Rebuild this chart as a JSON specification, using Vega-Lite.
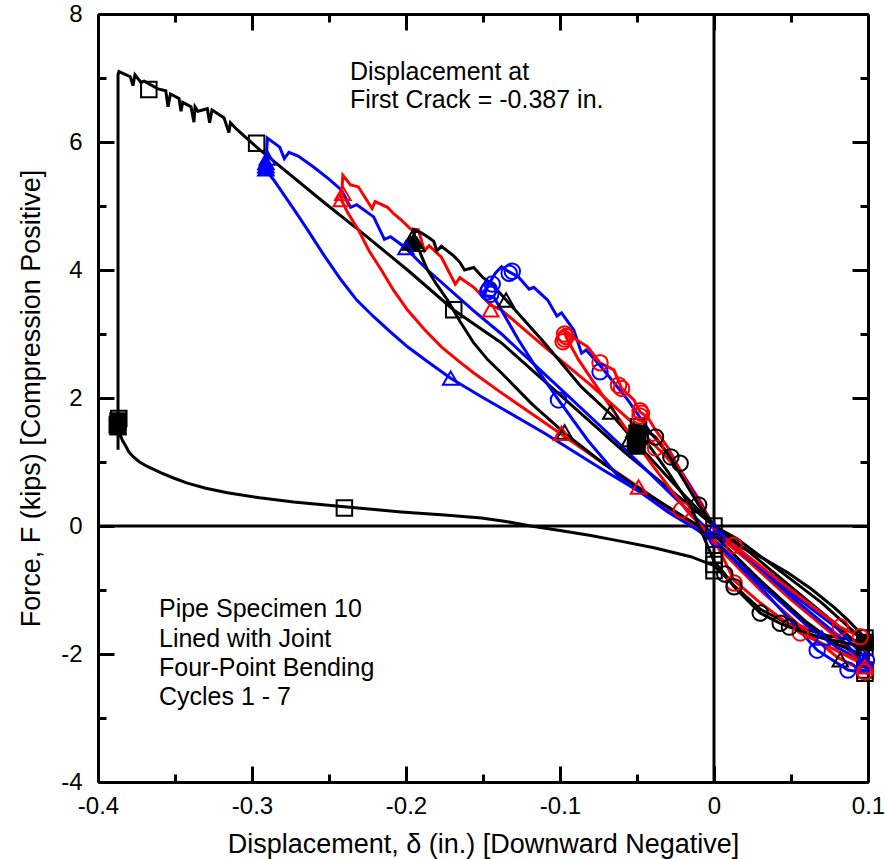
{
"$schema":"https://vega.github.io/schema/vega-lite/v6.json",
"width":770,"height":768,"autosize":"none",
"padding":{"left":98,"top":14,"right":18,"bottom":77},
"config":{"view":{"stroke":null},"axis":{"domainColor":"black","domainWidth":3,"tickColor":"black","tickWidth":3,"labelFont":"Liberation Sans","labelFontSize":24,"labelColor":"black","titleFont":"Liberation Sans","titleFontSize":27,"titleFontWeight":"normal","titleColor":"black","grid":false,"labelFlush":false,"labelOverlap":false,"labelBound":false,"zindex":1}},
"datasets":{
"zero":[{"v":0}],
"txt":[{"x":-0.2364,"y":6.97,"t":"Displacement at"},{"x":-0.2364,"y":6.53,"t":"First Crack = -0.387 in."},{"x":-0.3604,"y":-1.42,"t":"Pipe Specimen 10"},{"x":-0.3604,"y":-1.89,"t":"Lined with Joint"},{"x":-0.3604,"y":-2.34,"t":"Four-Point Bending"},{"x":-0.3604,"y":-2.8,"t":"Cycles 1 - 7"}],
"lines":[
{"s":"c7","o":1,"x":0,"y":0,"c":"k"},{"s":"c7","o":2,"x":-0.02,"y":0.4,"c":"k"},{"s":"c7","o":3,"x":-0.058,"y":1.15,"c":"k"},{"s":"c7","o":4,"x":-0.1,"y":2.05,"c":"k"},{"s":"c7","o":5,"x":-0.138,"y":2.86,"c":"k"},{"s":"c7","o":6,"x":-0.169,"y":3.375,"c":"k"},{"s":"c7","o":7,"x":-0.199,"y":4.0,"c":"k"},{"s":"c7","o":8,"x":-0.231,"y":4.63,"c":"k"},{"s":"c7","o":9,"x":-0.253,"y":5.05,"c":"k"},{"s":"c7","o":10,"x":-0.2909,"y":5.8,"c":"k"},{"s":"c7","o":11,"x":-0.2961,"y":5.9,"c":"k"},{"s":"c7","o":12,"x":-0.3026,"y":6.04,"c":"k"},{"s":"c7","o":13,"x":-0.31,"y":6.2,"c":"k"},{"s":"c7","o":14,"x":-0.314,"y":6.3,"c":"k"},{"s":"c7","o":15,"x":-0.315,"y":6.15,"c":"k"},{"s":"c7","o":16,"x":-0.3182,"y":6.38,"c":"k"},{"s":"c7","o":17,"x":-0.326,"y":6.5,"c":"k"},{"s":"c7","o":18,"x":-0.3275,"y":6.3,"c":"k"},{"s":"c7","o":19,"x":-0.329,"y":6.52,"c":"k"},{"s":"c7","o":20,"x":-0.3351,"y":6.48,"c":"k"},{"s":"c7","o":21,"x":-0.337,"y":6.55,"c":"k"},{"s":"c7","o":22,"x":-0.3377,"y":6.31,"c":"k"},{"s":"c7","o":23,"x":-0.3396,"y":6.55,"c":"k"},{"s":"c7","o":24,"x":-0.345,"y":6.62,"c":"k"},{"s":"c7","o":25,"x":-0.3461,"y":6.48,"c":"k"},{"s":"c7","o":26,"x":-0.3474,"y":6.68,"c":"k"},{"s":"c7","o":27,"x":-0.353,"y":6.75,"c":"k"},{"s":"c7","o":28,"x":-0.3545,"y":6.55,"c":"k"},{"s":"c7","o":29,"x":-0.356,"y":6.8,"c":"k"},{"s":"c7","o":30,"x":-0.361,"y":6.83,"c":"k"},{"s":"c7","o":31,"x":-0.37,"y":6.95,"c":"k"},{"s":"c7","o":32,"x":-0.3721,"y":6.93,"c":"k"},{"s":"c7","o":33,"x":-0.376,"y":7.05,"c":"k"},{"s":"c7","o":34,"x":-0.3773,"y":6.88,"c":"k"},{"s":"c7","o":35,"x":-0.379,"y":7.02,"c":"k"},{"s":"c7","o":36,"x":-0.3864,"y":7.1,"c":"k"},{"s":"c7","o":37,"x":-0.387,"y":7.05,"c":"k"},{"s":"c7","o":38,"x":-0.387,"y":1.19,"c":"k"},{"s":"c7","o":39,"x":-0.387,"y":1.6,"c":"k"},{"s":"c7","o":40,"x":-0.386,"y":1.45,"c":"k"},{"s":"c7","o":41,"x":-0.384,"y":1.33,"c":"k"},{"s":"c7","o":42,"x":-0.382,"y":1.25,"c":"k"},{"s":"c7","o":43,"x":-0.38,"y":1.16,"c":"k"},{"s":"c7","o":44,"x":-0.377,"y":1.08,"c":"k"},{"s":"c7","o":45,"x":-0.373,"y":1.0,"c":"k"},{"s":"c7","o":46,"x":-0.368,"y":0.93,"c":"k"},{"s":"c7","o":47,"x":-0.359,"y":0.83,"c":"k"},{"s":"c7","o":48,"x":-0.351,"y":0.75,"c":"k"},{"s":"c7","o":49,"x":-0.342,"y":0.67,"c":"k"},{"s":"c7","o":50,"x":-0.33,"y":0.59,"c":"k"},{"s":"c7","o":51,"x":-0.316,"y":0.52,"c":"k"},{"s":"c7","o":52,"x":-0.295,"y":0.44,"c":"k"},{"s":"c7","o":53,"x":-0.273,"y":0.375,"c":"k"},{"s":"c7","o":54,"x":-0.24,"y":0.3,"c":"k"},{"s":"c7","o":55,"x":-0.203,"y":0.22,"c":"k"},{"s":"c7","o":56,"x":-0.175,"y":0.17,"c":"k"},{"s":"c7","o":57,"x":-0.151,"y":0.125,"c":"k"},{"s":"c7","o":58,"x":-0.135,"y":0.07,"c":"k"},{"s":"c7","o":59,"x":-0.119,"y":0.0,"c":"k"},{"s":"c7","o":60,"x":-0.1,"y":-0.07,"c":"k"},{"s":"c7","o":61,"x":-0.08,"y":-0.15,"c":"k"},{"s":"c7","o":62,"x":-0.06,"y":-0.24,"c":"k"},{"s":"c7","o":63,"x":-0.039,"y":-0.34,"c":"k"},{"s":"c7","o":64,"x":-0.015,"y":-0.48,"c":"k"},{"s":"c7","o":65,"x":0,"y":-0.62,"c":"k"},{"s":"c7","o":66,"x":0.013,"y":-0.93,"c":"k"},{"s":"c7","o":67,"x":0.03,"y":-1.3,"c":"k"},{"s":"c7","o":68,"x":0.05,"y":-1.55,"c":"k"},{"s":"c7","o":69,"x":0.075,"y":-1.72,"c":"k"},{"s":"c7","o":70,"x":0.1,"y":-1.82,"c":"k"},{"s":"c7","o":71,"x":0.095,"y":-1.67,"c":"k"},{"s":"c7","o":72,"x":0.087,"y":-1.47,"c":"k"},{"s":"c7","o":73,"x":0.078,"y":-1.27,"c":"k"},{"s":"c7","o":74,"x":0.063,"y":-0.98,"c":"k"},{"s":"c7","o":75,"x":0.048,"y":-0.73,"c":"k"},{"s":"c7","o":76,"x":0.033,"y":-0.52,"c":"k"},{"s":"c7","o":77,"x":0.0175,"y":-0.33,"c":"k"},{"s":"c7","o":78,"x":0.003,"y":-0.08,"c":"k"},{"s":"c7","o":79,"x":0,"y":0,"c":"k"},
{"s":"c6","o":1,"x":0,"y":-0.15,"c":"b"},{"s":"c6","o":2,"x":-0.03,"y":0.55,"c":"b"},{"s":"c6","o":3,"x":-0.06,"y":1.25,"c":"b"},{"s":"c6","o":4,"x":-0.1,"y":2.15,"c":"b"},{"s":"c6","o":5,"x":-0.138,"y":3.0,"c":"b"},{"s":"c6","o":6,"x":-0.156,"y":3.36,"c":"b"},{"s":"c6","o":7,"x":-0.186,"y":4.0,"c":"b"},{"s":"c6","o":8,"x":-0.201,"y":4.36,"c":"b"},{"s":"c6","o":9,"x":-0.21,"y":4.52,"c":"b"},{"s":"c6","o":10,"x":-0.214,"y":4.48,"c":"b"},{"s":"c6","o":11,"x":-0.221,"y":4.83,"c":"b"},{"s":"c6","o":12,"x":-0.232,"y":5.02,"c":"b"},{"s":"c6","o":13,"x":-0.236,"y":4.98,"c":"b"},{"s":"c6","o":14,"x":-0.242,"y":5.25,"c":"b"},{"s":"c6","o":15,"x":-0.25,"y":5.42,"c":"b"},{"s":"c6","o":16,"x":-0.26,"y":5.61,"c":"b"},{"s":"c6","o":17,"x":-0.27,"y":5.78,"c":"b"},{"s":"c6","o":18,"x":-0.276,"y":5.84,"c":"b"},{"s":"c6","o":19,"x":-0.279,"y":5.74,"c":"b"},{"s":"c6","o":20,"x":-0.282,"y":5.92,"c":"b"},{"s":"c6","o":21,"x":-0.29,"y":6.06,"c":"b"},{"s":"c6","o":22,"x":-0.291,"y":5.6,"c":"b"},{"s":"c6","o":23,"x":-0.289,"y":5.5,"c":"b"},{"s":"c6","o":24,"x":-0.286,"y":5.41,"c":"b"},{"s":"c6","o":25,"x":-0.28,"y":5.2,"c":"b"},{"s":"c6","o":26,"x":-0.272,"y":4.92,"c":"b"},{"s":"c6","o":27,"x":-0.264,"y":4.63,"c":"b"},{"s":"c6","o":28,"x":-0.253,"y":4.22,"c":"b"},{"s":"c6","o":29,"x":-0.242,"y":3.84,"c":"b"},{"s":"c6","o":30,"x":-0.232,"y":3.53,"c":"b"},{"s":"c6","o":31,"x":-0.221,"y":3.27,"c":"b"},{"s":"c6","o":32,"x":-0.21,"y":3.03,"c":"b"},{"s":"c6","o":33,"x":-0.199,"y":2.8,"c":"b"},{"s":"c6","o":34,"x":-0.185,"y":2.55,"c":"b"},{"s":"c6","o":35,"x":-0.171,"y":2.31,"c":"b"},{"s":"c6","o":36,"x":-0.151,"y":2.02,"c":"b"},{"s":"c6","o":37,"x":-0.138,"y":1.84,"c":"b"},{"s":"c6","o":38,"x":-0.11,"y":1.45,"c":"b"},{"s":"c6","o":39,"x":-0.073,"y":0.89,"c":"b"},{"s":"c6","o":40,"x":-0.034,"y":0.33,"c":"b"},{"s":"c6","o":41,"x":-0.008,"y":-0.06,"c":"b"},{"s":"c6","o":42,"x":0,"y":-0.22,"c":"b"},{"s":"c6","o":43,"x":0.03,"y":-0.9,"c":"b"},{"s":"c6","o":44,"x":0.06,"y":-1.55,"c":"b"},{"s":"c6","o":45,"x":0.08,"y":-1.9,"c":"b"},{"s":"c6","o":46,"x":0.1,"y":-2.15,"c":"b"},{"s":"c6","o":47,"x":0.1,"y":-2.1,"c":"b"},{"s":"c6","o":48,"x":0.08,"y":-1.6,"c":"b"},{"s":"c6","o":49,"x":0.05,"y":-1.05,"c":"b"},{"s":"c6","o":50,"x":0.02,"y":-0.45,"c":"b"},{"s":"c6","o":51,"x":0,"y":-0.05,"c":"b"},
{"s":"c5","o":1,"x":0,"y":-0.05,"c":"r"},{"s":"c5","o":2,"x":-0.008,"y":0.35,"c":"r"},{"s":"c5","o":3,"x":-0.02,"y":0.8,"c":"r"},{"s":"c5","o":4,"x":-0.05,"y":1.55,"c":"r"},{"s":"c5","o":5,"x":-0.08,"y":2.2,"c":"r"},{"s":"c5","o":6,"x":-0.11,"y":2.8,"c":"r"},{"s":"c5","o":7,"x":-0.138,"y":3.375,"c":"r"},{"s":"c5","o":8,"x":-0.145,"y":3.45,"c":"r"},{"s":"c5","o":9,"x":-0.156,"y":3.73,"c":"r"},{"s":"c5","o":10,"x":-0.165,"y":3.88,"c":"r"},{"s":"c5","o":11,"x":-0.168,"y":3.78,"c":"r"},{"s":"c5","o":12,"x":-0.177,"y":4.2,"c":"r"},{"s":"c5","o":13,"x":-0.185,"y":4.38,"c":"r"},{"s":"c5","o":14,"x":-0.188,"y":4.3,"c":"r"},{"s":"c5","o":15,"x":-0.192,"y":4.63,"c":"r"},{"s":"c5","o":16,"x":-0.197,"y":4.64,"c":"r"},{"s":"c5","o":17,"x":-0.203,"y":4.78,"c":"r"},{"s":"c5","o":18,"x":-0.208,"y":4.88,"c":"r"},{"s":"c5","o":19,"x":-0.212,"y":4.98,"c":"r"},{"s":"c5","o":20,"x":-0.22,"y":5.07,"c":"r"},{"s":"c5","o":21,"x":-0.222,"y":4.96,"c":"r"},{"s":"c5","o":22,"x":-0.231,"y":5.3,"c":"r"},{"s":"c5","o":23,"x":-0.236,"y":5.33,"c":"r"},{"s":"c5","o":24,"x":-0.241,"y":5.48,"c":"r"},{"s":"c5","o":25,"x":-0.242,"y":5.1,"c":"r"},{"s":"c5","o":26,"x":-0.238,"y":4.9,"c":"r"},{"s":"c5","o":27,"x":-0.231,"y":4.63,"c":"r"},{"s":"c5","o":28,"x":-0.224,"y":4.3,"c":"r"},{"s":"c5","o":29,"x":-0.216,"y":4.0,"c":"r"},{"s":"c5","o":30,"x":-0.208,"y":3.68,"c":"r"},{"s":"c5","o":31,"x":-0.199,"y":3.375,"c":"r"},{"s":"c5","o":32,"x":-0.188,"y":3.07,"c":"r"},{"s":"c5","o":33,"x":-0.177,"y":2.8,"c":"r"},{"s":"c5","o":34,"x":-0.166,"y":2.58,"c":"r"},{"s":"c5","o":35,"x":-0.156,"y":2.39,"c":"r"},{"s":"c5","o":36,"x":-0.138,"y":2.08,"c":"r"},{"s":"c5","o":37,"x":-0.12,"y":1.78,"c":"r"},{"s":"c5","o":38,"x":-0.1,"y":1.45,"c":"r"},{"s":"c5","o":39,"x":-0.075,"y":1.03,"c":"r"},{"s":"c5","o":40,"x":-0.049,"y":0.61,"c":"r"},{"s":"c5","o":41,"x":-0.02,"y":0.12,"c":"r"},{"s":"c5","o":42,"x":0,"y":-0.27,"c":"r"},{"s":"c5","o":43,"x":0.03,"y":-1.0,"c":"r"},{"s":"c5","o":44,"x":0.06,"y":-1.65,"c":"r"},{"s":"c5","o":45,"x":0.08,"y":-2.05,"c":"r"},{"s":"c5","o":46,"x":0.1,"y":-2.3,"c":"r"},{"s":"c5","o":47,"x":0.1,"y":-2.25,"c":"r"},{"s":"c5","o":48,"x":0.08,"y":-1.75,"c":"r"},{"s":"c5","o":49,"x":0.05,"y":-1.15,"c":"r"},{"s":"c5","o":50,"x":0.02,"y":-0.5,"c":"r"},{"s":"c5","o":51,"x":0,"y":-0.1,"c":"r"},
{"s":"c4","o":1,"x":0,"y":0,"c":"k"},{"s":"c4","o":2,"x":-0.02,"y":0.5,"c":"k"},{"s":"c4","o":3,"x":-0.052,"y":1.34,"c":"k"},{"s":"c4","o":4,"x":-0.065,"y":1.7,"c":"k"},{"s":"c4","o":5,"x":-0.086,"y":2.17,"c":"k"},{"s":"c4","o":6,"x":-0.11,"y":2.86,"c":"k"},{"s":"c4","o":7,"x":-0.13,"y":3.4,"c":"k"},{"s":"c4","o":8,"x":-0.145,"y":3.8,"c":"k"},{"s":"c4","o":9,"x":-0.15,"y":3.88,"c":"k"},{"s":"c4","o":10,"x":-0.156,"y":4.04,"c":"k"},{"s":"c4","o":11,"x":-0.162,"y":4.0,"c":"k"},{"s":"c4","o":12,"x":-0.165,"y":4.12,"c":"k"},{"s":"c4","o":13,"x":-0.169,"y":4.22,"c":"k"},{"s":"c4","o":14,"x":-0.177,"y":4.37,"c":"k"},{"s":"c4","o":15,"x":-0.18,"y":4.3,"c":"k"},{"s":"c4","o":16,"x":-0.182,"y":4.45,"c":"k"},{"s":"c4","o":17,"x":-0.186,"y":4.52,"c":"k"},{"s":"c4","o":18,"x":-0.19,"y":4.58,"c":"k"},{"s":"c4","o":19,"x":-0.195,"y":4.63,"c":"k"},{"s":"c4","o":20,"x":-0.194,"y":4.47,"c":"k"},{"s":"c4","o":21,"x":-0.19,"y":4.22,"c":"k"},{"s":"c4","o":22,"x":-0.186,"y":4.0,"c":"k"},{"s":"c4","o":23,"x":-0.18,"y":3.77,"c":"k"},{"s":"c4","o":24,"x":-0.173,"y":3.53,"c":"k"},{"s":"c4","o":25,"x":-0.165,"y":3.2,"c":"k"},{"s":"c4","o":26,"x":-0.156,"y":2.86,"c":"k"},{"s":"c4","o":27,"x":-0.147,"y":2.6,"c":"k"},{"s":"c4","o":28,"x":-0.138,"y":2.39,"c":"k"},{"s":"c4","o":29,"x":-0.118,"y":1.9,"c":"k"},{"s":"c4","o":30,"x":-0.097,"y":1.45,"c":"k"},{"s":"c4","o":31,"x":-0.072,"y":0.98,"c":"k"},{"s":"c4","o":32,"x":-0.047,"y":0.56,"c":"k"},{"s":"c4","o":33,"x":-0.02,"y":0.15,"c":"k"},{"s":"c4","o":34,"x":0,"y":-0.14,"c":"k"},{"s":"c4","o":35,"x":0.03,"y":-0.85,"c":"k"},{"s":"c4","o":36,"x":0.06,"y":-1.5,"c":"k"},{"s":"c4","o":37,"x":0.08,"y":-1.85,"c":"k"},{"s":"c4","o":38,"x":0.1,"y":-2.05,"c":"k"},{"s":"c4","o":39,"x":0.1,"y":-2.0,"c":"k"},{"s":"c4","o":40,"x":0.08,"y":-1.55,"c":"k"},{"s":"c4","o":41,"x":0.05,"y":-0.95,"c":"k"},{"s":"c4","o":42,"x":0.02,"y":-0.35,"c":"k"},{"s":"c4","o":43,"x":0,"y":0,"c":"k"},
{"s":"c3","o":1,"x":0,"y":0,"c":"b"},{"s":"c3","o":2,"x":-0.026,"y":1.03,"c":"b"},{"s":"c3","o":3,"x":-0.041,"y":1.45,"c":"b"},{"s":"c3","o":4,"x":-0.056,"y":1.97,"c":"b"},{"s":"c3","o":5,"x":-0.073,"y":2.48,"c":"b"},{"s":"c3","o":6,"x":-0.083,"y":2.75,"c":"b"},{"s":"c3","o":7,"x":-0.086,"y":2.7,"c":"b"},{"s":"c3","o":8,"x":-0.091,"y":3.06,"c":"b"},{"s":"c3","o":9,"x":-0.099,"y":3.33,"c":"b"},{"s":"c3","o":10,"x":-0.102,"y":3.28,"c":"b"},{"s":"c3","o":11,"x":-0.108,"y":3.53,"c":"b"},{"s":"c3","o":12,"x":-0.117,"y":3.73,"c":"b"},{"s":"c3","o":13,"x":-0.12,"y":3.7,"c":"b"},{"s":"c3","o":14,"x":-0.127,"y":3.89,"c":"b"},{"s":"c3","o":15,"x":-0.133,"y":3.97,"c":"b"},{"s":"c3","o":16,"x":-0.138,"y":4.05,"c":"b"},{"s":"c3","o":17,"x":-0.142,"y":3.95,"c":"b"},{"s":"c3","o":18,"x":-0.147,"y":3.75,"c":"b"},{"s":"c3","o":19,"x":-0.149,"y":3.6,"c":"b"},{"s":"c3","o":20,"x":-0.143,"y":3.58,"c":"b"},{"s":"c3","o":21,"x":-0.127,"y":2.91,"c":"b"},{"s":"c3","o":22,"x":-0.114,"y":2.42,"c":"b"},{"s":"c3","o":23,"x":-0.101,"y":1.97,"c":"b"},{"s":"c3","o":24,"x":-0.082,"y":1.34,"c":"b"},{"s":"c3","o":25,"x":-0.062,"y":0.77,"c":"b"},{"s":"c3","o":26,"x":-0.03,"y":0.22,"c":"b"},{"s":"c3","o":27,"x":0,"y":-0.22,"c":"b"},{"s":"c3","o":28,"x":0.03,"y":-0.95,"c":"b"},{"s":"c3","o":29,"x":0.067,"y":-1.94,"c":"b"},{"s":"c3","o":30,"x":0.087,"y":-2.25,"c":"b"},{"s":"c3","o":31,"x":0.1,"y":-2.3,"c":"b"},{"s":"c3","o":32,"x":0.1,"y":-2.2,"c":"b"},{"s":"c3","o":33,"x":0.08,"y":-1.7,"c":"b"},{"s":"c3","o":34,"x":0.05,"y":-1.1,"c":"b"},{"s":"c3","o":35,"x":0.02,"y":-0.45,"c":"b"},{"s":"c3","o":36,"x":0,"y":-0.05,"c":"b"},
{"s":"c2","o":1,"x":0,"y":0,"c":"r"},{"s":"c2","o":2,"x":-0.015,"y":0.56,"c":"r"},{"s":"c2","o":3,"x":-0.03,"y":1.23,"c":"r"},{"s":"c2","o":4,"x":-0.038,"y":1.5,"c":"r"},{"s":"c2","o":5,"x":-0.043,"y":1.7,"c":"r"},{"s":"c2","o":6,"x":-0.048,"y":1.78,"c":"r"},{"s":"c2","o":7,"x":-0.052,"y":1.97,"c":"r"},{"s":"c2","o":8,"x":-0.06,"y":2.15,"c":"r"},{"s":"c2","o":9,"x":-0.065,"y":2.44,"c":"r"},{"s":"c2","o":10,"x":-0.074,"y":2.55,"c":"r"},{"s":"c2","o":11,"x":-0.082,"y":2.8,"c":"r"},{"s":"c2","o":12,"x":-0.09,"y":2.92,"c":"r"},{"s":"c2","o":13,"x":-0.097,"y":3.06,"c":"r"},{"s":"c2","o":14,"x":-0.096,"y":2.95,"c":"r"},{"s":"c2","o":15,"x":-0.088,"y":2.6,"c":"r"},{"s":"c2","o":16,"x":-0.074,"y":2.1,"c":"r"},{"s":"c2","o":17,"x":-0.058,"y":1.55,"c":"r"},{"s":"c2","o":18,"x":-0.04,"y":0.95,"c":"r"},{"s":"c2","o":19,"x":-0.017,"y":0.22,"c":"r"},{"s":"c2","o":20,"x":0,"y":-0.2,"c":"r"},{"s":"c2","o":21,"x":0.013,"y":-0.85,"c":"r"},{"s":"c2","o":22,"x":0.03,"y":-1.2,"c":"r"},{"s":"c2","o":23,"x":0.056,"y":-1.67,"c":"r"},{"s":"c2","o":24,"x":0.08,"y":-1.95,"c":"r"},{"s":"c2","o":25,"x":0.1,"y":-2.2,"c":"r"},{"s":"c2","o":26,"x":0.1,"y":-2.1,"c":"r"},{"s":"c2","o":27,"x":0.095,"y":-1.73,"c":"r"},{"s":"c2","o":28,"x":0.082,"y":-1.58,"c":"r"},{"s":"c2","o":29,"x":0.05,"y":-1.0,"c":"r"},{"s":"c2","o":30,"x":0.013,"y":-0.3,"c":"r"},{"s":"c2","o":31,"x":0,"y":-0.05,"c":"r"},
{"s":"c1","o":1,"x":0,"y":0,"c":"k"},{"s":"c1","o":2,"x":-0.01,"y":0.33,"c":"k"},{"s":"c1","o":3,"x":-0.028,"y":1.05,"c":"k"},{"s":"c1","o":4,"x":-0.038,"y":1.39,"c":"k"},{"s":"c1","o":5,"x":-0.05,"y":1.6,"c":"k"},{"s":"c1","o":6,"x":-0.045,"y":1.35,"c":"k"},{"s":"c1","o":7,"x":-0.03,"y":0.85,"c":"k"},{"s":"c1","o":8,"x":-0.015,"y":0.3,"c":"k"},{"s":"c1","o":9,"x":0,"y":-0.55,"c":"k"},{"s":"c1","o":10,"x":0.007,"y":-0.75,"c":"k"},{"s":"c1","o":11,"x":0.013,"y":-0.95,"c":"k"},{"s":"c1","o":12,"x":0.03,"y":-1.36,"c":"k"},{"s":"c1","o":13,"x":0.043,"y":-1.52,"c":"k"},{"s":"c1","o":14,"x":0.049,"y":-1.58,"c":"k"},{"s":"c1","o":15,"x":0.07,"y":-1.75,"c":"k"},{"s":"c1","o":16,"x":0.1,"y":-1.9,"c":"k"},{"s":"c1","o":17,"x":0.1,"y":-1.85,"c":"k"},{"s":"c1","o":18,"x":0.07,"y":-1.2,"c":"k"},{"s":"c1","o":19,"x":0.04,"y":-0.65,"c":"k"},{"s":"c1","o":20,"x":0.015,"y":-0.2,"c":"k"},{"s":"c1","o":21,"x":0,"y":0,"c":"k"}
],
"pts":[
{"x":-0.367,"y":6.82,"m":"sq","c":"k","f":"n"},{"x":-0.297,"y":5.98,"m":"sq","c":"k","f":"n"},{"x":-0.169,"y":3.38,"m":"sq","c":"k","f":"n"},{"x":-0.387,"y":1.55,"m":"sq","c":"k","f":"k"},{"x":-0.387,"y":1.64,"m":"sq","c":"k","f":"k"},{"x":-0.3865,"y":1.68,"m":"sq","c":"k","f":"n"},{"x":-0.3875,"y":1.58,"m":"sq","c":"k","f":"n"},{"x":-0.24,"y":0.28,"m":"sq","c":"k","f":"n"},{"x":0,"y":0,"m":"sq","c":"k","f":"n"},{"x":0,"y":-0.3,"m":"sq","c":"k","f":"n"},{"x":0,"y":-0.45,"m":"sq","c":"k","f":"n"},{"x":0,"y":-0.6,"m":"sq","c":"k","f":"n"},{"x":0,"y":-0.7,"m":"sq","c":"k","f":"n"},{"x":0.098,"y":-1.75,"m":"sq","c":"k","f":"n"},{"x":0.098,"y":-1.82,"m":"sq","c":"k","f":"k"},{"x":0.098,"y":-1.9,"m":"sq","c":"k","f":"n"},{"x":0.098,"y":-2.25,"m":"sq","c":"k","f":"n"},{"x":0.098,"y":-2.3,"m":"sq","c":"k","f":"n"},{"x":-0.05,"y":1.25,"m":"sq","c":"k","f":"k"},{"x":-0.05,"y":1.35,"m":"sq","c":"k","f":"n"},{"x":-0.05,"y":1.45,"m":"sq","c":"k","f":"k"},{"x":-0.049,"y":1.55,"m":"sq","c":"k","f":"n"},{"x":-0.051,"y":1.3,"m":"sq","c":"k","f":"n"},{"x":-0.048,"y":1.4,"m":"sq","c":"k","f":"n"},
{"x":-0.195,"y":4.45,"m":"tri","c":"k","f":"k"},{"x":-0.196,"y":4.5,"m":"tri","c":"k","f":"n"},{"x":-0.193,"y":4.4,"m":"tri","c":"k","f":"n"},{"x":-0.197,"y":4.42,"m":"tri","c":"k","f":"n"},{"x":-0.135,"y":3.53,"m":"tri","c":"k","f":"n"},{"x":-0.097,"y":1.47,"m":"tri","c":"k","f":"n"},{"x":-0.067,"y":1.78,"m":"tri","c":"k","f":"n"},{"x":-0.055,"y":1.35,"m":"tri","c":"k","f":"n"},{"x":-0.052,"y":1.5,"m":"tri","c":"k","f":"n"},{"x":0.082,"y":-2.09,"m":"tri","c":"k","f":"n"},
{"x":-0.291,"y":5.58,"m":"tri","c":"b","f":"b"},{"x":-0.291,"y":5.63,"m":"tri","c":"b","f":"n"},{"x":-0.291,"y":5.68,"m":"tri","c":"b","f":"b"},{"x":-0.29,"y":5.75,"m":"tri","c":"b","f":"n"},{"x":-0.2,"y":4.35,"m":"tri","c":"b","f":"n"},{"x":-0.171,"y":2.31,"m":"tri","c":"b","f":"n"},{"x":0,"y":-0.05,"m":"tri","c":"b","f":"n"},{"x":0.098,"y":-2.1,"m":"tri","c":"b","f":"n"},{"x":0.098,"y":-2.15,"m":"tri","c":"b","f":"n"},{"x":0.07,"y":-1.75,"m":"tri","c":"b","f":"n"},
{"x":-0.242,"y":5.1,"m":"tri","c":"r","f":"n"},{"x":-0.241,"y":5.2,"m":"tri","c":"r","f":"n"},{"x":-0.145,"y":3.38,"m":"tri","c":"r","f":"n"},{"x":-0.099,"y":1.45,"m":"tri","c":"r","f":"n"},{"x":-0.049,"y":0.61,"m":"tri","c":"r","f":"n"},{"x":0.098,"y":-2.2,"m":"tri","c":"r","f":"n"},
{"x":-0.145,"y":3.62,"m":"cir","c":"b","f":"n"},{"x":-0.146,"y":3.7,"m":"cir","c":"b","f":"n"},{"x":-0.144,"y":3.78,"m":"cir","c":"b","f":"n"},{"x":-0.147,"y":3.66,"m":"cir","c":"b","f":"n"},{"x":-0.133,"y":3.95,"m":"cir","c":"b","f":"n"},{"x":-0.131,"y":3.98,"m":"cir","c":"b","f":"n"},{"x":-0.101,"y":1.97,"m":"cir","c":"b","f":"n"},{"x":-0.074,"y":2.41,"m":"cir","c":"b","f":"n"},{"x":0.067,"y":-1.94,"m":"cir","c":"b","f":"n"},{"x":0.087,"y":-2.25,"m":"cir","c":"b","f":"n"},{"x":0.002,"y":-0.2,"m":"cir","c":"b","f":"n"},{"x":0.099,"y":-2.1,"m":"cir","c":"b","f":"n"},
{"x":-0.097,"y":2.92,"m":"cir","c":"r","f":"n"},{"x":-0.097,"y":3.0,"m":"cir","c":"r","f":"n"},{"x":-0.096,"y":2.96,"m":"cir","c":"r","f":"n"},{"x":-0.098,"y":2.88,"m":"cir","c":"r","f":"n"},{"x":-0.074,"y":2.55,"m":"cir","c":"r","f":"n"},{"x":-0.062,"y":2.2,"m":"cir","c":"r","f":"n"},{"x":-0.06,"y":2.15,"m":"cir","c":"r","f":"n"},{"x":-0.048,"y":1.8,"m":"cir","c":"r","f":"n"},{"x":-0.048,"y":1.72,"m":"cir","c":"r","f":"n"},{"x":-0.047,"y":1.76,"m":"cir","c":"r","f":"n"},{"x":-0.038,"y":1.22,"m":"cir","c":"r","f":"n"},{"x":-0.021,"y":0.25,"m":"cir","c":"r","f":"n"},{"x":0.013,"y":-0.3,"m":"cir","c":"r","f":"n"},{"x":0.013,"y":-0.89,"m":"cir","c":"r","f":"n"},{"x":0.056,"y":-1.67,"m":"cir","c":"r","f":"n"},{"x":0.082,"y":-1.58,"m":"cir","c":"r","f":"n"},{"x":0.095,"y":-1.73,"m":"cir","c":"r","f":"n"},{"x":0.098,"y":-2.28,"m":"cir","c":"r","f":"n"},
{"x":-0.038,"y":1.39,"m":"cir","c":"k","f":"n"},{"x":-0.028,"y":1.08,"m":"cir","c":"k","f":"n"},{"x":-0.022,"y":0.98,"m":"cir","c":"k","f":"n"},{"x":-0.01,"y":0.33,"m":"cir","c":"k","f":"n"},{"x":0.007,"y":-0.75,"m":"cir","c":"k","f":"n"},{"x":0.013,"y":-0.95,"m":"cir","c":"k","f":"n"},{"x":0.03,"y":-1.36,"m":"cir","c":"k","f":"n"},{"x":0.043,"y":-1.52,"m":"cir","c":"k","f":"n"},{"x":0.049,"y":-1.58,"m":"cir","c":"k","f":"n"}
]
},
"resolve":{"axis":{"x":"independent","y":"independent"}},
"layer":[
{"data":{"name":"zero"},"mark":{"type":"rule","strokeWidth":3,"color":"black"},
 "encoding":{"x":{"field":"v","type":"quantitative","scale":{"domain":[-0.4,0.1],"nice":false,"zero":false},
  "axis":{"orient":"top","values":[-0.35,-0.25,-0.15,-0.05,0.05],"tickSize":-8,"labels":false,"domain":false,"title":null}}}},
{"data":{"name":"zero"},"mark":{"type":"rule","strokeWidth":3,"color":"black"},
 "encoding":{"y":{"field":"v","type":"quantitative","scale":{"domain":[-4,8],"nice":false,"zero":false},
  "axis":{"orient":"right","values":[-3,-1,1,3,5,7],"tickSize":-8,"labels":false,"domain":false,"title":null}}}},
{"data":{"name":"lines"},"mark":{"type":"line","strokeWidth":3},
 "encoding":{
  "x":{"field":"x","type":"quantitative","scale":{"domain":[-0.4,0.1],"nice":false,"zero":false},
   "axis":{"orient":"bottom","values":[-0.4,-0.3,-0.2,-0.1,0,0.1],"tickSize":-16,"labelPadding":28,"labelExpr":"toString(datum.value)","title":"Displacement, δ (in.) [Downward Negative]","titlePadding":13}},
  "y":{"field":"y","type":"quantitative","scale":{"domain":[-4,8],"nice":false,"zero":false},
   "axis":{"orient":"left","values":[-4,-2,0,2,4,6,8],"tickSize":-16,"labelPadding":32,"labelExpr":"toString(datum.value)","title":"Force, F (kips) [Compression Positive]","titlePadding":15}},
  "color":{"field":"c","type":"nominal","scale":{"domain":["k","b","r"],"range":["#000000","#0000ff","#ff0000"]},"legend":null},
  "detail":{"field":"s"},
  "order":{"field":"o","type":"quantitative"}}},
{"data":{"name":"pts"},"mark":{"type":"point","filled":false,"strokeWidth":2,"size":240,"opacity":1},
 "encoding":{
  "x":{"field":"x","type":"quantitative","scale":{"domain":[-0.4,0.1],"nice":false,"zero":false},
   "axis":{"orient":"bottom","values":[-0.35,-0.25,-0.15,-0.05,0.05],"tickSize":-8,"labels":false,"domain":false,"title":null}},
  "y":{"field":"y","type":"quantitative","scale":{"domain":[-4,8],"nice":false,"zero":false},
   "axis":{"orient":"left","values":[-3,-1,1,3,5,7],"tickSize":-8,"labels":false,"domain":false,"title":null}},
  "color":{"field":"c","type":"nominal","scale":{"domain":["k","b","r"],"range":["#000000","#0000ff","#ff0000"]},"legend":null},
  "fill":{"field":"f","type":"nominal","scale":{"domain":["n","k","b","r"],"range":["transparent","#000000","#0000ff","#ff0000"]},"legend":null},
  "shape":{"field":"m","type":"nominal","scale":{"domain":["sq","tri","cir"],"range":["square","triangle-up","circle"]},"legend":null}}},
{"data":{"name":"txt"},"mark":{"type":"text","align":"left","baseline":"alphabetic","font":"Liberation Sans","fontSize":25,"color":"black"},
 "encoding":{
  "x":{"field":"x","type":"quantitative","scale":{"domain":[-0.4,0.1],"nice":false,"zero":false},
   "axis":{"orient":"top","values":[-0.4,-0.3,-0.2,-0.1,0,0.1],"tickSize":-16,"labels":false,"title":null}},
  "y":{"field":"y","type":"quantitative","scale":{"domain":[-4,8],"nice":false,"zero":false},
   "axis":{"orient":"right","values":[-4,-2,0,2,4,6,8],"tickSize":-16,"labels":false,"title":null}},
  "text":{"field":"t"}}}
]
}
